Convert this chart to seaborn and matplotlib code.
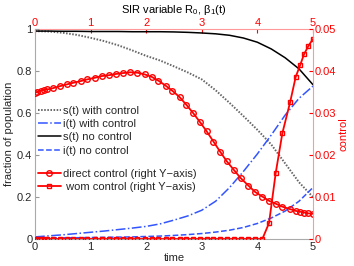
import matplotlib
matplotlib.use("Agg")
import matplotlib.pyplot as plt
import seaborn as sns
import pandas as pd

# SIR curves (left axis)
t_sir = [0, 0.25, 0.5, 0.75, 1, 1.25, 1.5, 1.75, 2, 2.25, 2.5,
         2.75, 3, 3.25, 3.5, 3.75, 4, 4.25, 4.5, 4.75, 5]
s_with = [0.99, 0.988, 0.982, 0.972, 0.958, 0.942, 0.922, 0.898, 0.872, 0.85, 0.822,
          0.793, 0.76, 0.708, 0.648, 0.585, 0.52, 0.45, 0.36, 0.27, 0.2]
i_with = [0.01, 0.015, 0.02, 0.026, 0.032, 0.038, 0.045, 0.052, 0.06, 0.072, 0.09,
          0.11, 0.137, 0.18, 0.245, 0.322, 0.405, 0.495, 0.59, 0.67, 0.728]
s_no = [0.99, 0.99, 0.989, 0.989, 0.988, 0.988, 0.988, 0.987, 0.987, 0.987, 0.986,
        0.984, 0.981, 0.977, 0.97, 0.957, 0.937, 0.905, 0.863, 0.81, 0.735]
i_no = [0.005, 0.005, 0.006, 0.006, 0.007, 0.008, 0.009, 0.01, 0.012, 0.014, 0.017,
        0.021, 0.026, 0.033, 0.042, 0.055, 0.074, 0.1, 0.133, 0.18, 0.245]

# control curves (right axis)
t_ctrl = [0, 0.04, 0.1, 0.16, 0.22, 0.32, 0.45, 0.57, 0.69, 0.82, 0.94, 1.08, 1.2,
          1.33, 1.46, 1.58, 1.71, 1.84, 1.97, 2.1, 2.22, 2.35, 2.47, 2.6, 2.72, 2.85,
          2.97, 3.09, 3.21, 3.33, 3.45, 3.58, 3.7, 3.84, 3.96, 4.09, 4.21, 4.33, 4.45,
          4.59, 4.69, 4.77, 4.84, 4.92, 5.0]
direct = [0.0348, 0.035, 0.0353, 0.0355, 0.0356, 0.0359, 0.0364, 0.0368, 0.0372,
          0.0376, 0.038, 0.0384, 0.0388, 0.039, 0.0393, 0.0395, 0.0397, 0.0396, 0.0392,
          0.0386, 0.0377, 0.0365, 0.0353, 0.0338, 0.032, 0.0299, 0.0278, 0.0256, 0.0232,
          0.0208, 0.0185, 0.0164, 0.0145, 0.0127, 0.0112, 0.0101, 0.0091, 0.0084, 0.0077,
          0.0071, 0.0067, 0.0065, 0.0063, 0.0061, 0.006]
wom = [0] * 36 + [0.0038, 0.0157, 0.0252, 0.0326, 0.0386, 0.0414, 0.044, 0.046, 0.0476]

left_ticks = [0, 0.2, 0.4, 0.6, 0.8, 1]
left_labels = ["0", "0.2", "0.4", "0.6", "0.8", "1"]
right_ticks = [0, 0.01, 0.02, 0.03, 0.04, 0.05]
right_labels = ["0", "0.01", "0.02", "0.03", "0.04", "0.05"]
time_ticks = [0, 1, 2, 3, 4, 5]

sns.set_style("white")
plt.rcParams['font.family'] = ['Liberation Sans', 'DejaVu Sans']
plt.rcParams['font.size'] = 8
plt.rcParams['mathtext.fontset'] = 'custom'
plt.rcParams['mathtext.rm'] = 'Liberation Sans'
plt.rcParams['mathtext.it'] = 'Liberation Sans'

sir = pd.DataFrame({"t": t_sir, "s_with": s_with, "i_with": i_with,
                    "s_no": s_no, "i_no": i_no})
ctrl = pd.DataFrame({"t": t_ctrl, "direct": direct, "wom": wom})

fig, ax = plt.subplots(figsize=(3.54, 2.66), dpi=100)
fig.subplots_adjust(left=0.099, right=0.884, bottom=0.1015, top=0.891)

blue = "#3355ff"
sns.lineplot(data=sir, x="t", y="s_with", ax=ax, color="#666666", dashes=False,
             linestyle=(0, (0.8, 0.8)), linewidth=1.4, label="s(t) with control",
             estimator=None)
sns.lineplot(data=sir, x="t", y="i_with", ax=ax, color=blue, linestyle="-.",
             linewidth=1.1, label="i(t) with control", estimator=None)
sns.lineplot(data=sir, x="t", y="s_no", ax=ax, color="black", linestyle="-",
             linewidth=1.1, label="s(t) no control", estimator=None)
sns.lineplot(data=sir, x="t", y="i_no", ax=ax, color=blue, linestyle="--",
             linewidth=1.1, label="i(t) no control", estimator=None)

ax.set_xlim(0, 5)
ax.set_ylim(0, 1)
ax.set_xticks(time_ticks)
ax.set_xticklabels([str(v) for v in time_ticks])
ax.set_yticks(left_ticks)
ax.set_yticklabels(left_labels)
ax.set_xlabel("time", labelpad=1)
ax.set_ylabel("fraction of population", labelpad=2)
ax.tick_params(direction="in", length=3, color="#999999", pad=2, labelsize=8)
for side in ["left", "bottom"]:
    ax.spines[side].set_color("#aaaaaa")
for side in ["top", "right"]:
    ax.spines[side].set_visible(False)

ax2 = ax.twinx()
sns.lineplot(data=ctrl, x="t", y="direct", ax=ax2, color="red", linewidth=1.3,
             marker="o", markersize=4, markerfacecolor="none", markeredgecolor="red",
             markeredgewidth=1.0, label="direct control (right Y\u2212axis)", estimator=None)
sns.lineplot(data=ctrl, x="t", y="wom", ax=ax2, color="red", linewidth=1.3,
             marker="s", markersize=3.2, markerfacecolor="none", markeredgecolor="red",
             markeredgewidth=1.0, label=" wom control (right Y\u2212axis)", estimator=None)
ax2.set_ylim(0, 0.05)
ax2.set_yticks(right_ticks)
ax2.set_yticklabels(right_labels)
ax2.set_ylabel("control", color="red", labelpad=2)
ax2.tick_params(axis="y", direction="in", length=3, colors="red", pad=1, labelsize=8)
for side in ["left", "bottom"]:
    ax2.spines[side].set_visible(False)
ax2.spines["right"].set_color("#ff9999")
ax2.spines["top"].set_visible(False)

top = ax.secondary_xaxis("top")
top.set_xticks(time_ticks)
top.set_xticklabels([str(v) for v in time_ticks])
top.tick_params(direction="in", length=3, colors="red", pad=1, labelsize=8)
top.spines["top"].set_color("#ff9999")
top.set_xlabel(r"SIR variable R$_{0}$, $\beta_1$(t)", color="black", labelpad=3)

h1, l1 = ax.get_legend_handles_labels()
h2, l2 = ax2.get_legend_handles_labels()
ax.get_legend().remove()
ax2.get_legend().remove()
leg1 = ax2.legend(h1, l1, loc="upper left", bbox_to_anchor=(0.012, 0.635), frameon=False,
                  borderaxespad=0, borderpad=0, handlelength=2.0, handletextpad=0.2,
                  labelspacing=0.3, fontsize=8)
ax2.add_artist(leg1)
ax2.legend(h2, l2, loc="upper left", bbox_to_anchor=(0.012, 0.335), frameon=False,
           borderaxespad=0, borderpad=0, handlelength=2.0, handletextpad=0.2,
           labelspacing=0.3, fontsize=8)

fig.savefig("out.png", dpi=100)
